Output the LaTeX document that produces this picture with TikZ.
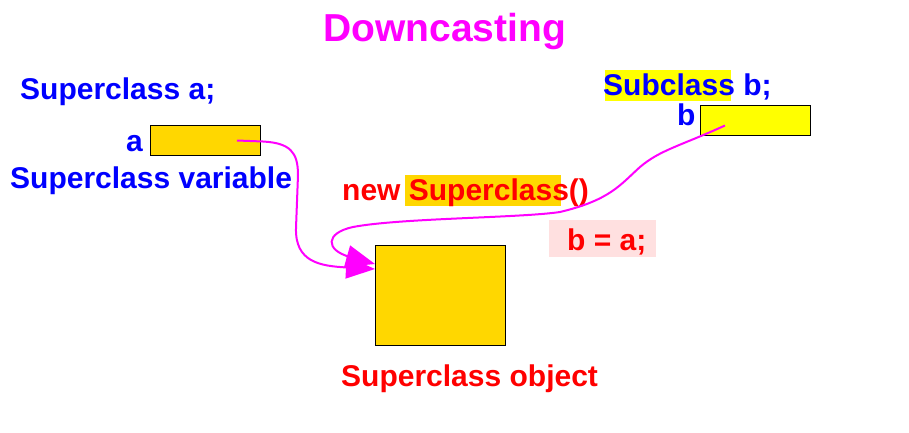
\documentclass[tikz,border=0pt]{standalone}
\usepackage{fontspec}
\setmainfont{Liberation Sans}
\usetikzlibrary{arrows.meta}
\definecolor{gold}{RGB}{255,215,0}
\definecolor{yel}{RGB}{255,255,0}
\definecolor{pinkbg}{RGB}{255,224,224}
\definecolor{mag}{RGB}{255,0,255}
\definecolor{bl}{RGB}{0,0,255}
\definecolor{rd}{RGB}{255,0,0}
\begin{document}
\begin{tikzpicture}[x=1pt,y=-1pt,
  txt/.style={inner sep=0pt,anchor=base west,font=\fontsize{30}{30}\bfseries\selectfont},
  varbox/.style={draw=black,line width=1pt,inner sep=0pt,anchor=north west},
  ptr/.style={mag,line width=2pt,-{Triangle[length=29pt,width=22pt]}}]
\useasboundingbox (0,0) rectangle (909,432);
% title
\node[txt,font=\fontsize{39}{39}\bfseries\selectfont,text=mag] (title) at (323,41) {Downcasting};
% left
\node[txt,text=bl] (decla) at (20,99) {Superclass a;};
\node[txt,text=bl] (labela) at (126,151) {a};
\node[varbox,fill=gold,minimum width=110pt,minimum height=30pt] (boxA) at (150,125) {};
\node[txt,text=bl] (vara) at (10,188) {Superclass variable};
% right
\fill[yel] (605,70) rectangle (731,101);
\node[txt,text=bl] (declb) at (603,95) {Subclass b;};
\node[txt,text=bl] (labelb) at (677,125) {b};
\node[varbox,fill=yel,minimum width=110pt,minimum height=30pt] (boxB) at (700,105) {};
% new
\fill[gold] (405,175) rectangle (561,206);
\node[txt,text=rd] (newexp) at (342,200) {new Superclass()};
\fill[pinkbg] (549,220) rectangle (656,257);
\node[txt,text=rd] (assign) at (567,250) {b = a;};
% object
\node[varbox,fill=gold,minimum width=130pt,minimum height=100pt] (obj) at (375,245) {};
\node[txt,text=rd] (objlabel) at (341,386) {Superclass object};
% connectors
\draw[ptr] ([xshift=-24pt]boxA.east) -- ++(26,1) .. controls (290,143) and (298,152) .. (298,175) -- (296,228) .. controls (295,262) and (320,266) .. ([yshift=-1pt]obj.west |- 0,268);
\draw[ptr] ([xshift=25pt,yshift=-5pt]boxB.west) .. controls (680,146) and (660,150) .. (640,167) .. controls (620,185) and (610,200) .. (560,212) .. controls (520,218) and (400,218) .. (353,227) .. controls (325,233) and (325,250) .. (350,257) -- (obj.west |- 0,264);
\end{tikzpicture}
\end{document}
